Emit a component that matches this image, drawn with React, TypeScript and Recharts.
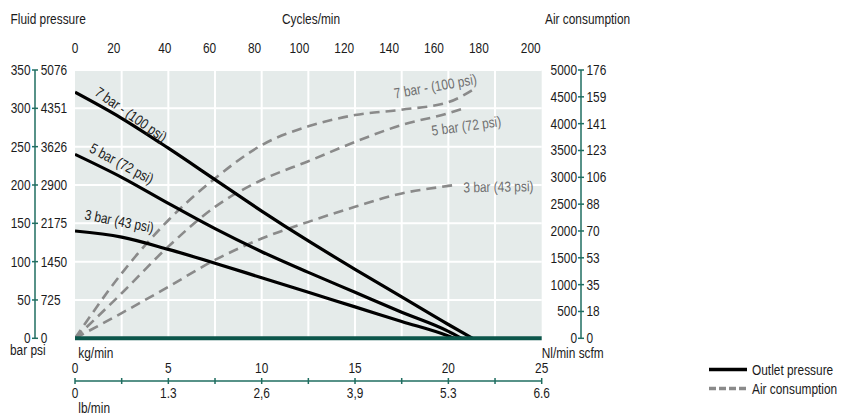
import React from "react";
import {
  LineChart,
  Line,
  XAxis,
  YAxis,
  CartesianGrid,
  ReferenceDot,
  Legend,
} from "recharts";

const FONT = "'Liberation Sans', Arial, sans-serif";
const FS = 14.5;
const SX = 0.82; // narrow the glyphs, the original uses a condensed face
const TEAL = "#1f6e61";
const DARK_TEAL = "#0c564b";
const INK = "#1b1b1b";
const AIR_GREY = "#8a8a8a";
const AIR_TEXT = "#6f6f6f";
const PLOT_BG = "#e5ebea";

// axis ticks / labels
const kgTicks = [0, 2.5, 5, 7.5, 10, 12.5, 15, 17.5, 20, 22.5, 25];
const kgLabels = ["0", "5", "10", "15", "20", "25"];
const lbLabels = ["0", "1.3", "2,6", "3,9", "5.3", "6.6"];
const cycleTicks = [0, 20, 40, 60, 80, 100, 120, 140, 160, 180, 200];
const barTicks = [0, 50, 100, 150, 200, 250, 300, 350];
const psiLabels = ["0", "725", "1450", "2175", "2900", "3626", "4351", "5076"];
const nlTicks = [0, 500, 1000, 1500, 2000, 2500, 3000, 3500, 4000, 4500, 5000];
const scfmLabels = ["0", "18", "35", "53", "70", "88", "106", "123", "141", "159", "176"];

// outlet pressure (bar) vs flow (kg/min)
const outletKg7 = [0, 2.5, 5, 7.5, 10, 12.5, 15, 17.5, 20, 21.3];
const outletBar7 = [321, 287, 248, 207, 166, 127, 90, 54, 18, 0];
const outletKg5 = [0, 2.5, 5, 7.5, 10, 12.5, 15, 17.5, 20, 20.7];
const outletBar5 = [240, 210, 176, 143, 113, 86, 60, 34, 9, 0];
const outletKg3 = [0, 2.5, 5, 7.5, 10, 12.5, 15, 17.5, 20, 20.3];
const outletBar3 = [140, 132, 116, 98, 79, 60, 41, 22, 3, 0];

// air consumption (Nl/min) vs flow (kg/min)
const airKg7 = [0, 2.5, 5, 7.5, 10, 12.5, 15, 17.5, 20, 21.4];
const air7 = [0, 1210, 2200, 2980, 3600, 3950, 4160, 4260, 4400, 4650];
const airKg5 = [0, 2.5, 5, 7.5, 10, 12.5, 15, 17.5, 20, 20.85];
const air5 = [0, 840, 1710, 2450, 2950, 3300, 3660, 3975, 4195, 4290];
const airKg3 = [0, 2.5, 5, 7.5, 10, 12.5, 15, 17.5, 20, 20.4];
const air3 = [0, 470, 960, 1460, 1860, 2170, 2450, 2700, 2840, 2860];

const outletNotes = [
  { text: "7 bar - (100 psi)", kg: 3.0, value: 292, angle: 35 },
  { text: "5 bar (72 psi)", kg: 2.5, value: 228, angle: 28 },
  { text: "3 bar (43 psi)", kg: 2.37, value: 153, angle: 11 },
];
const airNotes = [
  { text: "7 bar - (100 psi)", kg: 19.3, value: 4700, angle: -10 },
  { text: "5 bar (72 psi)", kg: 20.96, value: 3960, angle: -8 },
  { text: "3 bar (43 psi)", kg: 22.68, value: 2825, angle: -1 },
];

const legendItems = [
  { label: "Outlet pressure", color: "#000", dash: undefined as string | undefined },
  { label: "Air consumption", color: AIR_GREY, dash: "7 3" },
];

const toPoints = (xs: number[], ys: number[]) => xs.map((kg, i) => ({ kg, v: ys[i] }));

// small nudges for the top scale labels
const cycleNudge: Record<number, number> = { 20: -6, 200: 7 };

const T = ({ x, y, anchor = "start", fill = INK, children }: any) => (
  <text
    transform={`translate(${x} ${y}) scale(${SX} 1)`}
    textAnchor={anchor}
    fontFamily={FONT}
    fontSize={FS}
    fill={fill}
  >
    {children}
  </text>
);

const BarTick = ({ x, y, payload }: any) => (
  <g>
    <line x1={x - 3} x2={x + 3} y1={y} y2={y} stroke={TEAL} strokeWidth={1.5} />
    <T x={x - 4.5} y={y + 5} anchor="end">{payload.value}</T>
  </g>
);

const PsiTick = ({ x, y, index }: any) => (
  <T x={x - 34.3} y={y + 5}>{psiLabels[index]}</T>
);

const NlTick = ({ x, y, payload }: any) => (
  <T x={x + 35.3} y={y + 5} anchor="end">{payload.value}</T>
);

const ScfmTick = ({ x, y, index }: any) => (
  <g>
    <line x1={x - 3} x2={x + 3} y1={y} y2={y} stroke={TEAL} strokeWidth={1.5} />
    <T x={x + 5.5} y={y + 5}>{scfmLabels[index]}</T>
  </g>
);

const CycleTick = ({ x, y, payload }: any) => (
  <T x={x + (cycleNudge[payload.value] || 0)} y={y - 16.7} anchor="middle">
    {payload.value}
  </T>
);

const ScaleTick = ({ x, y, payload, index }: any) => {
  const v = payload.value as number;
  const major = v % 5 === 0;
  return (
    <g>
      <line x1={x} x2={x} y1={y - 3} y2={y + 3} stroke={TEAL} strokeWidth={1.5} />
      {major && (
        <>
          <T x={x} y={y - 7.7} anchor="middle">{kgLabels[v / 5]}</T>
          <T x={x} y={y + 17.3} anchor="middle">{lbLabels[v / 5]}</T>
        </>
      )}
      {index === 0 && (
        <>
          <T x={x + 3.3} y={y - 23}>kg/min</T>
          <T x={x + 3.3} y={y + 32}>lb/min</T>
        </>
      )}
    </g>
  );
};

const noteLabel = (text: string, angle: number, color: string) => (props: any) => {
  const vb = props.viewBox || {};
  const cx = (vb.x || 0) + (vb.width || 0) / 2;
  const cy = (vb.y || 0) + (vb.height || 0) / 2;
  return (
    <text
      transform={`translate(${cx} ${cy}) rotate(${angle}) scale(${SX} 1)`}
      dy="0.35em"
      textAnchor="middle"
      fontFamily={FONT}
      fontSize={FS}
      fill={color}
    >
      {text}
    </text>
  );
};

const renderLegend = () => (
  <svg width={150} height={38} style={{ display: "block" }}>
    {legendItems.map((item, i) => (
      <g key={item.label}>
        <line
          x1={0}
          x2={38}
          y1={9.5 + i * 19}
          y2={9.5 + i * 19}
          stroke={item.color}
          strokeWidth={3.5}
          strokeDasharray={item.dash}
        />
        <T x={43} y={14.5 + i * 19}>{item.label}</T>
      </g>
    ))}
  </svg>
);

const scaleRows = kgTicks.map((kg) => ({ kg }));
// vertical grid lines, one per inner scale tick, running over the full pressure range
const gridColumns = kgTicks
  .slice(1, -1)
  .map((kg) => [
    { kg, v: barTicks[0] },
    { kg, v: barTicks[barTicks.length - 1] },
  ]);

export default function App() {
  return (
    <div style={{ position: "absolute", left: 0, top: 0, width: 856, height: 414 }}>
      <LineChart
        width={856}
        height={414}
        data={scaleRows}
        margin={{ top: 40, right: 235, bottom: 3, left: 5 }}
      >
        <CartesianGrid
          xAxisId="kg"
          yAxisId="left2"
          stroke="#ffffff"
          strokeWidth={2}
          fill={PLOT_BG}
          vertical={false}
        />

        <XAxis
          xAxisId="kg"
          dataKey="kg"
          type="number"
          domain={[0, 25]}
          allowDataOverflow
          ticks={kgTicks}
          interval={0}
          height={42.7}
          tick={false}
          tickLine={false}
          axisLine={{ stroke: DARK_TEAL, strokeWidth: 4 }}
        />
        <XAxis
          xAxisId="scale"
          dataKey="kg"
          type="number"
          domain={[0, 25]}
          allowDataOverflow
          ticks={kgTicks}
          interval={0}
          height={30}
          tickSize={0}
          tickMargin={0}
          tickLine={false}
          axisLine={{ stroke: TEAL, strokeWidth: 1.5 }}
          tick={ScaleTick}
        />
        <XAxis
          xAxisId="cyc"
          dataKey="kg"
          orientation="top"
          type="number"
          domain={[0, 208]}
          allowDataOverflow
          ticks={cycleTicks}
          interval={0}
          height={30}
          tickSize={0}
          tickMargin={0}
          tickLine={false}
          axisLine={false}
          tick={CycleTick}
        />

        {/* outer left axis: bar */}
        <YAxis
          yAxisId="left2"
          type="number"
          domain={[0, 350]}
          allowDataOverflow
          ticks={barTicks}
          interval={0}
          width={30}
          tickSize={0}
          tickMargin={0}
          tickLine={false}
          axisLine={{ stroke: TEAL, strokeWidth: 1.5 }}
          tick={BarTick}
        />
        {/* inner left axis: psi */}
        <YAxis
          yAxisId="left1"
          type="number"
          domain={[0, 350]}
          allowDataOverflow
          ticks={barTicks}
          interval={0}
          width={40}
          tickSize={0}
          tickMargin={0}
          tickLine={false}
          axisLine={false}
          tick={PsiTick}
        />
        <YAxis
          yAxisId="nl"
          orientation="right"
          type="number"
          domain={[0, 5000]}
          allowDataOverflow
          ticks={nlTicks}
          interval={0}
          width={39.3}
          tickSize={0}
          tickMargin={0}
          tickLine={false}
          axisLine={false}
          tick={NlTick}
        />
        <YAxis
          yAxisId="scfm"
          orientation="right"
          type="number"
          domain={[0, 5000]}
          allowDataOverflow
          ticks={nlTicks}
          interval={0}
          width={40}
          tickSize={0}
          tickMargin={0}
          tickLine={false}
          axisLine={{ stroke: TEAL, strokeWidth: 1.5 }}
          tick={ScfmTick}
        />

        {gridColumns.map((col) => (
          <Line key={"grid" + col[0].kg} xAxisId="kg" yAxisId="left2" data={col} dataKey="v" type="linear"
            stroke="#ffffff" strokeWidth={2} dot={false} activeDot={false} legendType="none" isAnimationActive={false} />
        ))}

        <Line xAxisId="kg" yAxisId="nl" data={toPoints(airKg7, air7)} dataKey="v" type="monotone"
          stroke={AIR_GREY} strokeWidth={2.6} strokeDasharray="10 6" dot={false} isAnimationActive={false} />
        <Line xAxisId="kg" yAxisId="nl" data={toPoints(airKg5, air5)} dataKey="v" type="monotone"
          stroke={AIR_GREY} strokeWidth={2.6} strokeDasharray="10 6" dot={false} isAnimationActive={false} />
        <Line xAxisId="kg" yAxisId="nl" data={toPoints(airKg3, air3)} dataKey="v" type="monotone"
          stroke={AIR_GREY} strokeWidth={2.6} strokeDasharray="10 6" dot={false} isAnimationActive={false} />

        <Line xAxisId="kg" yAxisId="left2" data={toPoints(outletKg7, outletBar7)} dataKey="v" type="monotone"
          stroke="#000" strokeWidth={3.2} dot={false} isAnimationActive={false} />
        <Line xAxisId="kg" yAxisId="left2" data={toPoints(outletKg5, outletBar5)} dataKey="v" type="monotone"
          stroke="#000" strokeWidth={3.2} dot={false} isAnimationActive={false} />
        <Line xAxisId="kg" yAxisId="left2" data={toPoints(outletKg3, outletBar3)} dataKey="v" type="monotone"
          stroke="#000" strokeWidth={3.2} dot={false} isAnimationActive={false} />

        {outletNotes.map((n) => (
          <ReferenceDot key={"o" + n.text} xAxisId="kg" yAxisId="left2" x={n.kg} y={n.value} r={0}
            fill="none" stroke="none" label={{ content: noteLabel(n.text, n.angle, INK) }} />
        ))}
        {airNotes.map((n) => (
          <ReferenceDot key={"a" + n.text} xAxisId="kg" yAxisId="nl" x={n.kg} y={n.value} r={0}
            fill="none" stroke="none" label={{ content: noteLabel(n.text, n.angle, AIR_TEXT) }} />
        ))}

        <Legend
          layout="vertical"
          align="center"
          verticalAlign="middle"
          content={renderLegend}
          wrapperStyle={{ left: 709, top: 359.5, width: 150, height: 38 }}
        />
      </LineChart>

      <svg
        width={856}
        height={414}
        style={{ position: "absolute", left: 0, top: 0, pointerEvents: "none" }}
      >
        <T x={10.5} y={24}>Fluid pressure</T>
        <T x={282} y={24}>Cycles/min</T>
        <T x={545} y={24}>Air consumption</T>
        <T x={10} y={355}>bar psi</T>
        <T x={541.7} y={357.5}>Nl/min scfm</T>
      </svg>
    </div>
  );
}
